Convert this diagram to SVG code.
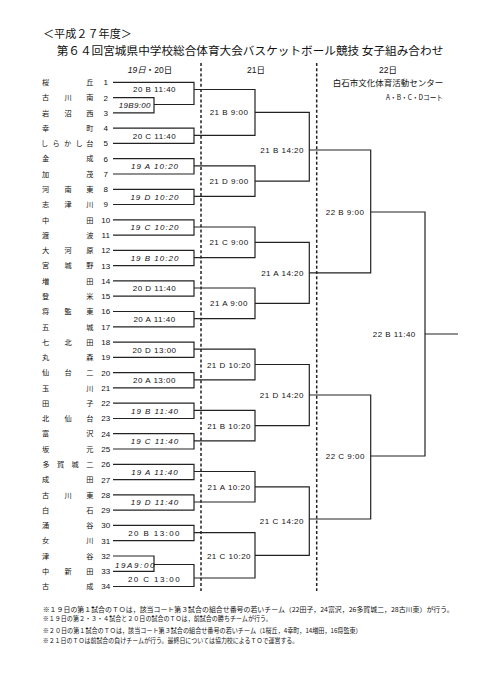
<svg xmlns="http://www.w3.org/2000/svg" width="481" height="680" viewBox="0 0 481 680">
<style>
text{fill:#111}
.jp{font-family:"Noto Sans CJK JP",sans-serif}
.nm{font-family:"Noto Sans CJK JP",sans-serif;font-size:7.2px;text-anchor:middle}
.no{font-family:"Liberation Sans",sans-serif;font-size:8px;text-anchor:middle}
.lb{font-family:"Liberation Sans","Noto Sans CJK JP",sans-serif;font-size:8px;text-anchor:middle;letter-spacing:0.5px}
.it{font-style:italic;letter-spacing:1px}
.ws{letter-spacing:1.4px}
.st{text-anchor:start}
.en{text-anchor:end}
.ln{stroke:#222;stroke-width:1.2;fill:none}
.dash{stroke:#222;stroke-width:1.5;stroke-dasharray:3 2.2;fill:none}
.hd{font-family:"Liberation Sans","Noto Sans CJK JP",sans-serif;font-size:8.5px;text-anchor:middle}
.fn{font-family:"Noto Sans CJK JP",sans-serif;font-size:6.3px}
</style>
<rect width="481" height="680" fill="#fff"/>
<g id="header">
<text class="jp" x="43" y="38.2" font-size="11" textLength="89" lengthAdjust="spacingAndGlyphs">＜平成２７年度＞</text>
<text class="jp" x="56.7" y="55" font-size="11.5" textLength="386.6" lengthAdjust="spacingAndGlyphs">第６４回宮城県中学校総合体育大会バスケットボール競技 女子組み合わせ</text>
<text class="hd" x="150" y="73"><tspan font-style="italic">19日</tspan>・20日</text>
<text class="hd" x="256" y="72.5">21日</text>
<text class="hd" x="388" y="72.5">22日</text>
<text class="jp" x="332.7" y="86.2" font-size="8.5" textLength="110.6" lengthAdjust="spacingAndGlyphs">白石市文化体育活動センター</text>
<text class="jp" x="386" y="99.8" font-size="7.3" textLength="57" lengthAdjust="spacingAndGlyphs">A・B・C・Dコート</text>
</g>
<g id="days">
<line class="dash" x1="201" y1="63" x2="201" y2="591"/>
<line class="dash" x1="316.7" y1="63" x2="316.7" y2="591"/>
</g>
<g id="teams">
<g id="team-1"><text class="nm" x="45.5 89.8" y="85">桜丘</text><text class="no" x="105.7" y="85.2">1</text></g>
<g id="team-2"><text class="nm" x="45.5 68 89.8" y="100.3">古川南</text><text class="no" x="105.7" y="100.5">2</text></g>
<g id="team-3"><text class="nm" x="45.5 68 89.8" y="115.6">岩沼西</text><text class="no" x="105.7" y="115.8">3</text></g>
<g id="team-4"><text class="nm" x="45.5 89.8" y="130.8">幸町</text><text class="no" x="105.7" y="131">4</text></g>
<g id="team-5"><text class="nm" x="44.5 56 67.5 79 89.8" y="146.1">しらかし台</text><text class="no" x="105.7" y="146.3">5</text></g>
<g id="team-6"><text class="nm" x="45.5 89.8" y="161.4">金成</text><text class="no" x="105.7" y="161.6">6</text></g>
<g id="team-7"><text class="nm" x="45.5 89.8" y="176.7">加茂</text><text class="no" x="105.7" y="176.9">7</text></g>
<g id="team-8"><text class="nm" x="45.5 68 89.8" y="192">河南東</text><text class="no" x="105.7" y="192.2">8</text></g>
<g id="team-9"><text class="nm" x="45.5 68 89.8" y="207.2">志津川</text><text class="no" x="105.7" y="207.4">9</text></g>
<g id="team-10"><text class="nm" x="45.5 89.8" y="222.5">中田</text><text class="no" x="105.7" y="222.7">10</text></g>
<g id="team-11"><text class="nm" x="45.5 89.8" y="237.8">渡波</text><text class="no" x="105.7" y="238">11</text></g>
<g id="team-12"><text class="nm" x="45.5 68 89.8" y="253.1">大河原</text><text class="no" x="105.7" y="253.3">12</text></g>
<g id="team-13"><text class="nm" x="45.5 68 89.8" y="268.4">宮城野</text><text class="no" x="105.7" y="268.6">13</text></g>
<g id="team-14"><text class="nm" x="45.5 89.8" y="283.6">増田</text><text class="no" x="105.7" y="283.8">14</text></g>
<g id="team-15"><text class="nm" x="45.5 89.8" y="298.9">登米</text><text class="no" x="105.7" y="299.1">15</text></g>
<g id="team-16"><text class="nm" x="45.5 68 89.8" y="314.2">将監東</text><text class="no" x="105.7" y="314.4">16</text></g>
<g id="team-17"><text class="nm" x="45.5 89.8" y="329.5">五城</text><text class="no" x="105.7" y="329.7">17</text></g>
<g id="team-18"><text class="nm" x="45.5 68 89.8" y="344.8">七北田</text><text class="no" x="105.7" y="345">18</text></g>
<g id="team-19"><text class="nm" x="45.5 89.8" y="360">丸森</text><text class="no" x="105.7" y="360.2">19</text></g>
<g id="team-20"><text class="nm" x="45.5 68 89.8" y="375.3">仙台二</text><text class="no" x="105.7" y="375.5">20</text></g>
<g id="team-21"><text class="nm" x="45.5 89.8" y="390.6">玉川</text><text class="no" x="105.7" y="390.8">21</text></g>
<g id="team-22"><text class="nm" x="45.5 89.8" y="405.9">田子</text><text class="no" x="105.7" y="406.1">22</text></g>
<g id="team-23"><text class="nm" x="45.5 68 89.8" y="421.2">北仙台</text><text class="no" x="105.7" y="421.4">23</text></g>
<g id="team-24"><text class="nm" x="45.5 89.8" y="436.4">富沢</text><text class="no" x="105.7" y="436.6">24</text></g>
<g id="team-25"><text class="nm" x="45.5 89.8" y="451.7">坂元</text><text class="no" x="105.7" y="451.9">25</text></g>
<g id="team-26"><text class="nm" x="46 60.6 75.2 89.8" y="467">多賀城二</text><text class="no" x="105.7" y="467.2">26</text></g>
<g id="team-27"><text class="nm" x="45.5 89.8" y="482.3">成田</text><text class="no" x="105.7" y="482.5">27</text></g>
<g id="team-28"><text class="nm" x="45.5 68 89.8" y="497.6">古川東</text><text class="no" x="105.7" y="497.8">28</text></g>
<g id="team-29"><text class="nm" x="45.5 89.8" y="512.8">白石</text><text class="no" x="105.7" y="513">29</text></g>
<g id="team-30"><text class="nm" x="45.5 89.8" y="528.1">涌谷</text><text class="no" x="105.7" y="528.3">30</text></g>
<g id="team-31"><text class="nm" x="45.5 89.8" y="543.4">女川</text><text class="no" x="105.7" y="543.6">31</text></g>
<g id="team-32"><text class="nm" x="45.5 89.8" y="558.7">津谷</text><text class="no" x="105.7" y="558.9">32</text></g>
<g id="team-33"><text class="nm" x="45.5 68 89.8" y="574">中新田</text><text class="no" x="105.7" y="574.2">33</text></g>
<g id="team-34"><text class="nm" x="45.5 89.8" y="589.2">古成</text><text class="no" x="105.7" y="589.4">34</text></g>
</g>
<g id="connectors" class="ln">
<path d="M113 97.6H154V112.9H113"/>
<path d="M113 82.3H194V104.5H154"/>
<path d="M113 128.1H194V143.4H113"/>
<path d="M113 158.7H194V174H113"/>
<path d="M113 189.3H194V204.5H113"/>
<path d="M113 219.8H194V235.1H113"/>
<path d="M113 250.4H194V265.7H113"/>
<path d="M113 280.9H194V296.2H113"/>
<path d="M113 311.5H194V326.8H113"/>
<path d="M113 342.1H194V357.3H113"/>
<path d="M113 372.6H194V387.9H113"/>
<path d="M113 403.2H194V418.5H113"/>
<path d="M113 433.7H194V449H113"/>
<path d="M113 464.3H194V479.6H113"/>
<path d="M113 494.9H194V510.1H113"/>
<path d="M113 525.4H194V540.7H113"/>
<path d="M113 556H154V571.3H113"/>
<path d="M154 564.5H194V586.5H113"/>
<path d="M194 89.5H255V135.3H194"/>
<path d="M194 165.9H255V196.4H194"/>
<path d="M194 227H255V257.6H194"/>
<path d="M194 288H255V318.6H194"/>
<path d="M194 349.2H255V379.8H194"/>
<path d="M194 410.4H255V440.9H194"/>
<path d="M194 471.5H255V502H194"/>
<path d="M194 532.6H255V578H194"/>
<path d="M255 112.4H309.3V181.2H255"/>
<path d="M255 242.3H309.3V303.3H255"/>
<path d="M255 364.5H309.3V425.7H255"/>
<path d="M255 486.8H309.3V555.3H255"/>
<path d="M309.3 150H370.7V272.8H309.3"/>
<path d="M309.3 395H370.7V519H309.3"/>
<path d="M370.7 212H425V456H370.7"/>
<path d="M425 334H458"/>
</g>
<g id="matches">
<g id="m-19B900"><text class="lb it" style="letter-spacing:0.3px" x="134.8" y="108">19B9:00</text></g>
<g id="m-19A900"><text class="lb it st" style="letter-spacing:1.6px" x="115" y="567.5">19A9:00</text></g>
<g id="m-20B1140"><text class="lb" x="154.5" y="92.4">20 B 11:40</text></g>
<g id="m-20C1140"><text class="lb" x="154.5" y="138.6">20 C 11:40</text></g>
<g id="m-19A1020"><text class="lb it" x="155" y="169.2">19 A 10:20</text></g>
<g id="m-19D1020"><text class="lb it" x="155" y="199.8">19 D 10:20</text></g>
<g id="m-19C1020"><text class="lb it" x="155" y="230.3">19 C 10:20</text></g>
<g id="m-19B1020"><text class="lb it" x="155" y="260.9">19 B 10:20</text></g>
<g id="m-20D1140"><text class="lb" x="154.5" y="291.4">20 D 11:40</text></g>
<g id="m-20A1140"><text class="lb" x="154.5" y="322">20 A 11:40</text></g>
<g id="m-20D1300"><text class="lb" x="154.5" y="352.6">20 D 13:00</text></g>
<g id="m-20A1300"><text class="lb" x="154.5" y="383.1">20 A 13:00</text></g>
<g id="m-19B1140"><text class="lb it" x="155" y="413.7">19 B 11:40</text></g>
<g id="m-19C1140"><text class="lb it" x="155" y="444.2">19 C 11:40</text></g>
<g id="m-19A1140"><text class="lb it" x="155" y="474.8">19 A 11:40</text></g>
<g id="m-19D1140"><text class="lb it" x="155" y="505.4">19 D 11:40</text></g>
<g id="m-20B1300"><text class="lb ws" x="154.5" y="535.9">20 B 13:00</text></g>
<g id="m-20C1300"><text class="lb ws" x="154.5" y="581.9">20 C 13:00</text></g>
<g id="m-21B900"><text class="lb" x="229" y="115.4">21 B 9:00</text></g>
<g id="m-21D900"><text class="lb" x="229" y="184.3">21 D 9:00</text></g>
<g id="m-21C900"><text class="lb" x="229" y="245.2">21 C 9:00</text></g>
<g id="m-21A900"><text class="lb" x="229" y="306.2">21 A 9:00</text></g>
<g id="m-21D1020"><text class="lb" x="229" y="367.6">21 D 10:20</text></g>
<g id="m-21B1020"><text class="lb" x="229" y="428.8">21 B 10:20</text></g>
<g id="m-21A1020"><text class="lb" x="229" y="489.9">21 A 10:20</text></g>
<g id="m-21C1020"><text class="lb" x="229" y="558.5">21 C 10:20</text></g>
<g id="m-21B1420"><text class="lb en" x="304" y="152.9">21 B 14:20</text></g>
<g id="m-21A1420"><text class="lb en" x="304" y="275.6">21 A 14:20</text></g>
<g id="m-21D1420"><text class="lb en" x="304" y="398">21 D 14:20</text></g>
<g id="m-21C1420"><text class="lb en" x="304" y="524.3">21 C 14:20</text></g>
<g id="m-22B900"><text class="lb st" x="325.7" y="215">22 B 9:00</text></g>
<g id="m-22C900"><text class="lb st" x="325.7" y="459.4">22 C 9:00</text></g>
<g id="m-22B1140"><text class="lb st" x="372.7" y="336.8">22 B 11:40</text></g>
</g>
<g id="notes">
<text class="fn" x="42.7" y="611.8" textLength="411" lengthAdjust="spacingAndGlyphs">※１９日の第１試合のＴＯは，該当コート第３試合の組合せ番号の若いチーム（22田子，24富沢，26多賀城二，28古川東）が行う。</text>
<text class="fn" x="42.7" y="621.2" textLength="229" lengthAdjust="spacingAndGlyphs">※１９日の第２・３・４試合と２０日の試合のＴＯは，前試合の勝ちチームが行う。</text>
<text class="fn" x="42.7" y="632.5" textLength="319" lengthAdjust="spacingAndGlyphs">※２０日の第１試合のＴＯは，該当コート第３試合の組合せ番号の若いチーム（1桜丘，4幸町，14増田，16将監東）</text>
<text class="fn" x="42.7" y="642.5" textLength="255.6" lengthAdjust="spacingAndGlyphs">※２１日のＴＯは前試合の負けチームが行う。最終日については協力校によるＴＯで運営する。</text>
</g>
</svg>
